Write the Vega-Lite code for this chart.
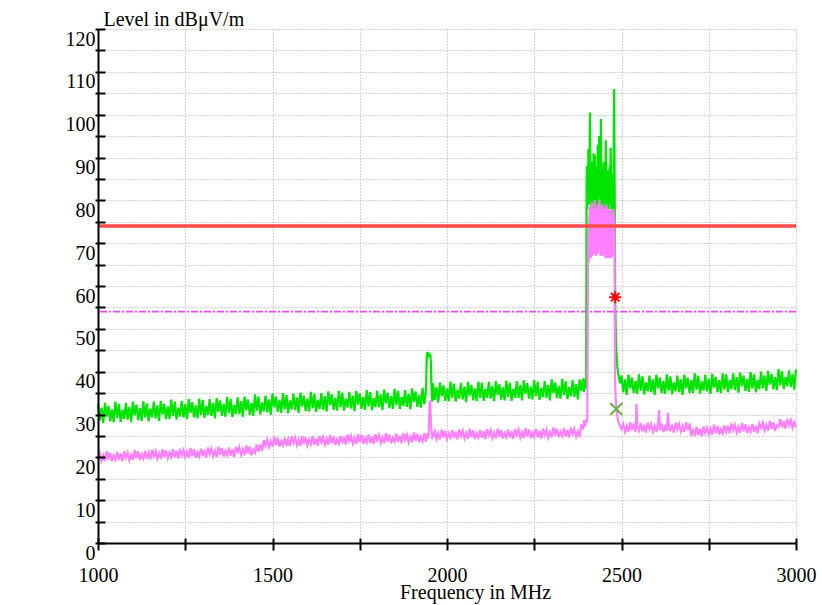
{
"$schema": "https://vega.github.io/schema/vega-lite/v6.json",
"width": 698, "height": 514,
"autosize": {"type": "none"},
"padding": {"left": 98, "top": 29, "right": 26, "bottom": 62},
"background": "white",
"config": {"view": {"stroke": null}, "font": "Liberation Serif, Times New Roman, serif"},
"data": {"values": [
{"f":1000,"pk":32.5,"av":19.8},{"f":1005,"pk":28.6,"av":21.0},{"f":1010,"pk":31.6,"av":19.2},{"f":1015,"pk":28.0,"av":20.5},{"f":1020,"pk":32.7,"av":19.1},{"f":1025,"pk":29.5,"av":21.4},{"f":1030,"pk":32.0,"av":19.5},{"f":1035,"pk":28.4,"av":21.1},{"f":1040,"pk":31.2,"av":19.1},{"f":1045,"pk":28.2,"av":20.4},
{"f":1050,"pk":33.0,"av":19.5},{"f":1055,"pk":29.2,"av":21.3},{"f":1060,"pk":32.5,"av":19.4},{"f":1065,"pk":28.3,"av":20.9},{"f":1070,"pk":31.1,"av":19.1},{"f":1075,"pk":29.0,"av":21.4},{"f":1080,"pk":32.7,"av":19.9},{"f":1085,"pk":28.8,"av":21.1},{"f":1090,"pk":31.8,"av":19.3},{"f":1095,"pk":28.2,"av":20.6},
{"f":1100,"pk":33.0,"av":19.4},{"f":1105,"pk":29.8,"av":21.7},{"f":1110,"pk":32.3,"av":19.8},{"f":1115,"pk":28.7,"av":21.4},{"f":1120,"pk":31.5,"av":19.4},{"f":1125,"pk":28.5,"av":20.7},{"f":1130,"pk":33.1,"av":19.7},{"f":1135,"pk":29.3,"av":21.5},{"f":1140,"pk":32.6,"av":19.6},{"f":1145,"pk":28.4,"av":21.1},
{"f":1150,"pk":31.4,"av":19.5},{"f":1155,"pk":29.3,"av":21.8},{"f":1160,"pk":33.0,"av":20.3},{"f":1165,"pk":29.1,"av":21.5},{"f":1170,"pk":32.1,"av":19.7},{"f":1175,"pk":28.5,"av":21.0},{"f":1180,"pk":33.2,"av":19.6},{"f":1185,"pk":30.0,"av":21.9},{"f":1190,"pk":32.5,"av":20.0},{"f":1195,"pk":28.9,"av":21.6},
{"f":1200,"pk":31.9,"av":19.8},{"f":1205,"pk":28.9,"av":21.1},{"f":1210,"pk":33.5,"av":20.1},{"f":1215,"pk":29.7,"av":21.9},{"f":1220,"pk":33.0,"av":20.0},{"f":1225,"pk":28.8,"av":21.5},{"f":1230,"pk":31.6,"av":19.7},{"f":1235,"pk":29.5,"av":22.0},{"f":1240,"pk":33.2,"av":20.5},{"f":1245,"pk":29.3,"av":21.7},
{"f":1250,"pk":32.5,"av":20.0},{"f":1255,"pk":28.9,"av":21.3},{"f":1260,"pk":33.6,"av":19.9},{"f":1265,"pk":30.4,"av":22.2},{"f":1270,"pk":32.9,"av":20.3},{"f":1275,"pk":29.3,"av":21.9},{"f":1280,"pk":32.1,"av":19.9},{"f":1285,"pk":29.1,"av":21.2},{"f":1290,"pk":33.7,"av":20.2},{"f":1295,"pk":29.9,"av":22.0},
{"f":1300,"pk":33.4,"av":20.3},{"f":1305,"pk":29.2,"av":21.8},{"f":1310,"pk":32.0,"av":20.0},{"f":1315,"pk":29.9,"av":22.3},{"f":1320,"pk":33.6,"av":20.8},{"f":1325,"pk":29.7,"av":22.0},{"f":1330,"pk":32.7,"av":20.2},{"f":1335,"pk":29.1,"av":21.5},{"f":1340,"pk":33.8,"av":20.1},{"f":1345,"pk":30.6,"av":22.4},
{"f":1350,"pk":33.3,"av":20.6},{"f":1355,"pk":29.7,"av":22.2},{"f":1360,"pk":32.5,"av":20.2},{"f":1365,"pk":29.5,"av":21.5},{"f":1370,"pk":34.1,"av":20.5},{"f":1375,"pk":30.3,"av":22.3},{"f":1380,"pk":33.6,"av":20.4},{"f":1385,"pk":29.4,"av":21.9},{"f":1390,"pk":32.2,"av":20.1},{"f":1395,"pk":30.1,"av":22.4},
{"f":1400,"pk":34.0,"av":21.2},{"f":1405,"pk":30.1,"av":22.4},{"f":1410,"pk":33.1,"av":20.6},{"f":1415,"pk":29.5,"av":21.9},{"f":1420,"pk":34.2,"av":20.5},{"f":1425,"pk":31.0,"av":22.8},{"f":1430,"pk":33.5,"av":20.9},{"f":1435,"pk":29.9,"av":22.5},{"f":1440,"pk":32.7,"av":20.5},{"f":1445,"pk":29.7,"av":21.8},
{"f":1450,"pk":34.7,"av":21.1},{"f":1455,"pk":30.9,"av":23.0},{"f":1460,"pk":34.2,"av":21.3},{"f":1465,"pk":30.0,"av":23.0},{"f":1470,"pk":32.8,"av":21.5},{"f":1475,"pk":30.7,"av":24.0},{"f":1480,"pk":34.4,"av":22.7},{"f":1485,"pk":30.5,"av":24.1},{"f":1490,"pk":33.5,"av":22.4},{"f":1495,"pk":29.9,"av":23.8},
{"f":1500,"pk":34.9,"av":22.5},{"f":1505,"pk":31.7,"av":24.8},{"f":1510,"pk":34.2,"av":22.9},{"f":1515,"pk":30.6,"av":24.5},{"f":1520,"pk":33.4,"av":22.5},{"f":1525,"pk":30.4,"av":23.8},{"f":1530,"pk":35.0,"av":22.8},{"f":1535,"pk":31.2,"av":24.6},{"f":1540,"pk":34.5,"av":22.7},{"f":1545,"pk":30.3,"av":24.2},
{"f":1550,"pk":33.3,"av":22.6},{"f":1555,"pk":31.2,"av":24.9},{"f":1560,"pk":34.9,"av":23.4},{"f":1565,"pk":31.0,"av":24.6},{"f":1570,"pk":34.0,"av":22.8},{"f":1575,"pk":30.4,"av":24.1},{"f":1580,"pk":35.1,"av":22.7},{"f":1585,"pk":31.9,"av":25.0},{"f":1590,"pk":34.4,"av":23.1},{"f":1595,"pk":30.8,"av":24.7},
{"f":1600,"pk":33.7,"av":22.8},{"f":1605,"pk":30.7,"av":24.1},{"f":1610,"pk":35.3,"av":23.1},{"f":1615,"pk":31.5,"av":24.9},{"f":1620,"pk":34.8,"av":23.0},{"f":1625,"pk":30.6,"av":24.5},{"f":1630,"pk":33.4,"av":22.7},{"f":1635,"pk":31.3,"av":25.0},{"f":1640,"pk":35.0,"av":23.5},{"f":1645,"pk":31.1,"av":24.7},
{"f":1650,"pk":34.3,"av":23.0},{"f":1655,"pk":30.7,"av":24.3},{"f":1660,"pk":35.4,"av":22.9},{"f":1665,"pk":32.2,"av":25.2},{"f":1670,"pk":34.7,"av":23.3},{"f":1675,"pk":31.1,"av":24.9},{"f":1680,"pk":33.9,"av":22.9},{"f":1685,"pk":30.9,"av":24.2},{"f":1690,"pk":35.5,"av":23.2},{"f":1695,"pk":31.7,"av":25.0},
{"f":1700,"pk":35.1,"av":23.3},{"f":1705,"pk":30.9,"av":24.8},{"f":1710,"pk":33.7,"av":23.0},{"f":1715,"pk":31.6,"av":25.3},{"f":1720,"pk":35.3,"av":23.8},{"f":1725,"pk":31.4,"av":25.0},{"f":1730,"pk":34.4,"av":23.2},{"f":1735,"pk":30.8,"av":24.5},{"f":1740,"pk":35.5,"av":23.1},{"f":1745,"pk":32.3,"av":25.4},
{"f":1750,"pk":34.9,"av":23.6},{"f":1755,"pk":31.3,"av":25.2},{"f":1760,"pk":34.1,"av":23.2},{"f":1765,"pk":31.1,"av":24.5},{"f":1770,"pk":35.7,"av":23.5},{"f":1775,"pk":31.9,"av":25.3},{"f":1780,"pk":35.2,"av":23.4},{"f":1785,"pk":31.0,"av":24.9},{"f":1790,"pk":33.8,"av":23.1},{"f":1795,"pk":31.7,"av":25.4},
{"f":1800,"pk":35.6,"av":24.0},{"f":1805,"pk":31.7,"av":25.2},{"f":1810,"pk":34.7,"av":23.4},{"f":1815,"pk":31.1,"av":24.7},{"f":1820,"pk":35.8,"av":23.3},{"f":1825,"pk":32.6,"av":25.6},{"f":1830,"pk":35.1,"av":23.7},{"f":1835,"pk":31.5,"av":25.3},{"f":1840,"pk":34.3,"av":23.3},{"f":1845,"pk":31.3,"av":24.6},
{"f":1850,"pk":36.0,"av":23.7},{"f":1855,"pk":32.2,"av":25.5},{"f":1860,"pk":35.5,"av":23.6},{"f":1865,"pk":31.3,"av":25.1},{"f":1870,"pk":34.1,"av":23.3},{"f":1875,"pk":32.0,"av":25.6},{"f":1880,"pk":35.7,"av":24.1},{"f":1885,"pk":31.8,"av":25.3},{"f":1890,"pk":34.8,"av":23.5},{"f":1895,"pk":31.2,"av":24.8},
{"f":1900,"pk":36.1,"av":23.5},{"f":1905,"pk":32.9,"av":25.8},{"f":1910,"pk":35.4,"av":23.9},{"f":1915,"pk":31.8,"av":25.5},{"f":1920,"pk":34.6,"av":23.5},{"f":1925,"pk":31.6,"av":24.8},{"f":1930,"pk":36.2,"av":23.8},{"f":1935,"pk":32.4,"av":25.6},{"f":1940,"pk":35.7,"av":23.7},
{"f":1942,"pk":43.8,"av":24.9},{"f":1944,"pk":44.6,"av":25.6},{"f":1946,"pk":43.9,"av":24.4},{"f":1948,"pk":44.4,"av":26.5},{"f":1950,"pk":43.5,"av":32.8},{"f":1952,"pk":44.1,"av":33.0},{"f":1954,"pk":42.0,"av":28.0},{"f":1956,"pk":35.2,"av":25.8},{"f":1958,"pk":33.0,"av":24.6},
{"f":1960,"pk":37.3,"av":24.9},{"f":1965,"pk":33.4,"av":26.1},{"f":1970,"pk":36.4,"av":24.3},{"f":1975,"pk":32.8,"av":25.6},{"f":1980,"pk":37.5,"av":24.2},{"f":1985,"pk":34.3,"av":26.5},{"f":1990,"pk":36.8,"av":24.6},{"f":1995,"pk":33.2,"av":26.2},
{"f":2000,"pk":36.1,"av":24.3},{"f":2005,"pk":33.1,"av":25.6},{"f":2010,"pk":37.7,"av":24.6},{"f":2015,"pk":33.9,"av":26.4},{"f":2020,"pk":37.2,"av":24.5},{"f":2025,"pk":33.0,"av":26.0},{"f":2030,"pk":35.8,"av":24.2},{"f":2035,"pk":33.7,"av":26.5},{"f":2040,"pk":37.4,"av":25.0},{"f":2045,"pk":33.5,"av":26.2},
{"f":2050,"pk":36.5,"av":24.4},{"f":2055,"pk":32.9,"av":25.7},{"f":2060,"pk":37.6,"av":24.3},{"f":2065,"pk":34.4,"av":26.6},{"f":2070,"pk":36.9,"av":24.7},{"f":2075,"pk":33.3,"av":26.3},{"f":2080,"pk":36.1,"av":24.3},{"f":2085,"pk":33.1,"av":25.6},{"f":2090,"pk":37.7,"av":24.6},{"f":2095,"pk":33.9,"av":26.4},
{"f":2100,"pk":37.4,"av":24.6},{"f":2105,"pk":33.2,"av":26.1},{"f":2110,"pk":36.0,"av":24.3},{"f":2115,"pk":33.9,"av":26.6},{"f":2120,"pk":37.6,"av":25.1},{"f":2125,"pk":33.7,"av":26.3},{"f":2130,"pk":36.7,"av":24.5},{"f":2135,"pk":33.1,"av":25.8},{"f":2140,"pk":37.8,"av":24.4},{"f":2145,"pk":34.6,"av":26.7},
{"f":2150,"pk":37.1,"av":24.8},{"f":2155,"pk":33.5,"av":26.4},{"f":2160,"pk":36.3,"av":24.4},{"f":2165,"pk":33.3,"av":25.7},{"f":2170,"pk":37.9,"av":24.7},{"f":2175,"pk":34.1,"av":26.5},{"f":2180,"pk":37.4,"av":24.6},{"f":2185,"pk":33.2,"av":26.1},{"f":2190,"pk":36.0,"av":24.3},{"f":2195,"pk":33.9,"av":26.6},
{"f":2200,"pk":37.8,"av":25.2},{"f":2205,"pk":33.9,"av":26.4},{"f":2210,"pk":36.9,"av":24.6},{"f":2215,"pk":33.3,"av":25.9},{"f":2220,"pk":38.0,"av":24.5},{"f":2225,"pk":34.8,"av":26.8},{"f":2230,"pk":37.3,"av":24.9},{"f":2235,"pk":33.7,"av":26.5},{"f":2240,"pk":36.5,"av":24.5},{"f":2245,"pk":33.5,"av":25.8},
{"f":2250,"pk":38.1,"av":24.8},{"f":2255,"pk":34.3,"av":26.6},{"f":2260,"pk":37.6,"av":24.7},{"f":2265,"pk":33.4,"av":26.2},{"f":2270,"pk":36.2,"av":24.4},{"f":2275,"pk":34.1,"av":26.7},{"f":2280,"pk":37.8,"av":25.2},{"f":2285,"pk":33.9,"av":26.4},{"f":2290,"pk":36.9,"av":24.6},{"f":2295,"pk":33.3,"av":25.9},
{"f":2300,"pk":38.2,"av":24.7},{"f":2305,"pk":35.0,"av":27.0},{"f":2310,"pk":37.5,"av":25.1},{"f":2315,"pk":33.9,"av":26.7},{"f":2320,"pk":36.7,"av":24.7},{"f":2325,"pk":33.7,"av":26.0},{"f":2330,"pk":38.3,"av":25.0},{"f":2335,"pk":34.5,"av":26.8},{"f":2340,"pk":37.8,"av":24.9},{"f":2345,"pk":33.6,"av":26.4},
{"f":2350,"pk":36.4,"av":24.6},{"f":2355,"pk":34.3,"av":26.9},{"f":2360,"pk":38.0,"av":25.4},{"f":2365,"pk":34.1,"av":26.6},{"f":2370,"pk":37.1,"av":24.8},{"f":2375,"pk":33.5,"av":26.1},{"f":2380,"pk":38.2,"av":24.7},{"f":2385,"pk":35.5,"av":27.7},{"f":2390,"pk":38.4,"av":26.5},{"f":2393,"pk":35.2,"av":28.7},{"f":2396,"pk":38.3,"av":27.2},{"f":2398,"pk":36.0,"av":28.8},
{"f":2399,"pk":38.5,"av":28.5},{"f":2400,"pk":84,"av":28.8},{"f":2401,"pk":88,"av":28.4},{"f":2402,"pk":78,"av":29.0},{"f":2403,"pk":87,"av":45},{"f":2404,"pk":80,"av":66},{"f":2405,"pk":92,"av":72},{"f":2406,"pk":79,"av":65.5},{"f":2407,"pk":86,"av":76},{"f":2408,"pk":81,"av":68},{"f":2409,"pk":95,"av":78.5},
{"f":2410,"pk":100.5,"av":70},{"f":2411,"pk":80,"av":77},{"f":2412,"pk":87,"av":66.5},{"f":2413,"pk":77,"av":75},{"f":2414,"pk":89,"av":69},{"f":2415,"pk":79,"av":79.5},{"f":2416,"pk":84,"av":67},{"f":2417,"pk":76,"av":76},{"f":2418,"pk":88,"av":70},{"f":2419,"pk":80,"av":78},
{"f":2420,"pk":91,"av":67.5},{"f":2421,"pk":78,"av":75.5},{"f":2422,"pk":85,"av":69},{"f":2423,"pk":80,"av":80},{"f":2424,"pk":90.5,"av":68},{"f":2425,"pk":77,"av":76.5},{"f":2426,"pk":84,"av":67},{"f":2427,"pk":79,"av":78},{"f":2428,"pk":88,"av":70.5},{"f":2429,"pk":76,"av":74},
{"f":2430,"pk":86,"av":68},{"f":2431,"pk":80,"av":79},{"f":2432,"pk":93,"av":67.5},{"f":2433,"pk":79,"av":76},{"f":2434,"pk":87,"av":70},{"f":2435,"pk":81,"av":77.5},{"f":2436,"pk":95,"av":68.5},{"f":2437,"pk":90.6,"av":80},{"f":2438,"pk":84,"av":69},{"f":2439,"pk":90,"av":75},
{"f":2440,"pk":79,"av":67},{"f":2441,"pk":99,"av":78},{"f":2442,"pk":77,"av":70},{"f":2443,"pk":88,"av":76},{"f":2444,"pk":80,"av":68.5},{"f":2445,"pk":86,"av":79},{"f":2446,"pk":78,"av":67},{"f":2447,"pk":84,"av":75.5},{"f":2448,"pk":82,"av":69},{"f":2449,"pk":89,"av":77},
{"f":2450,"pk":85,"av":67.5},{"f":2451,"pk":80,"av":78.5},{"f":2452,"pk":86,"av":70},{"f":2453,"pk":78,"av":75},{"f":2454,"pk":84,"av":66.5},{"f":2455,"pk":94,"av":77},{"f":2456,"pk":88,"av":68},{"f":2457,"pk":80,"av":79},{"f":2458,"pk":85,"av":66.5},{"f":2459,"pk":76,"av":76},
{"f":2460,"pk":83,"av":69},{"f":2461,"pk":79,"av":78},{"f":2462,"pk":87,"av":67},{"f":2463,"pk":78,"av":75},{"f":2464,"pk":84,"av":66.5},{"f":2465,"pk":79,"av":77.5},{"f":2466,"pk":88,"av":68},{"f":2467,"pk":82,"av":76},{"f":2468,"pk":86,"av":66.5},{"f":2469,"pk":92.3,"av":78},
{"f":2470,"pk":85,"av":67},{"f":2471,"pk":77,"av":75},{"f":2472,"pk":84,"av":66.5},{"f":2473,"pk":78,"av":77},{"f":2474,"pk":83,"av":68},{"f":2475,"pk":76,"av":76.5},{"f":2476,"pk":86,"av":67},{"f":2477,"pk":80,"av":78},{"f":2478,"pk":96,"av":69},{"f":2479,"pk":106,"av":76},
{"f":2480,"pk":88,"av":72},{"f":2481,"pk":74,"av":45},{"f":2482,"pk":56,"av":36.5},{"f":2483,"pk":52,"av":34.5},{"f":2484,"pk":47.5,"av":33},{"f":2486,"pk":43.5,"av":31},{"f":2488,"pk":41.2,"av":29.6},{"f":2490,"pk":39.8,"av":28.6},{"f":2493,"pk":38.5,"av":27.8},{"f":2496,"pk":37.3,"av":27.3},
{"f":2500,"pk":39.1,"av":26.6},{"f":2505,"pk":35.2,"av":27.8},{"f":2510,"pk":38.2,"av":26.0},{"f":2515,"pk":34.6,"av":27.3},{"f":2520,"pk":39.3,"av":25.9},{"f":2525,"pk":36.1,"av":28.2},{"f":2530,"pk":38.6,"av":26.3},{"f":2535,"pk":35.0,"av":27.9},{"f":2540,"pk":37.8,"av":25.9},{"f":2543,"pk":36.0,"av":32.5},{"f":2545,"pk":34.8,"av":27.2},
{"f":2550,"pk":39.4,"av":26.2},{"f":2555,"pk":35.6,"av":28.0},{"f":2560,"pk":38.9,"av":26.1},{"f":2565,"pk":34.7,"av":27.6},{"f":2570,"pk":37.5,"av":25.8},{"f":2575,"pk":35.4,"av":28.1},{"f":2580,"pk":39.1,"av":26.6},{"f":2585,"pk":35.2,"av":27.8},{"f":2590,"pk":38.2,"av":26.0},{"f":2595,"pk":34.6,"av":27.3},
{"f":2600,"pk":39.3,"av":25.9},{"f":2605,"pk":36.1,"av":28.2},{"f":2608,"pk":37.5,"av":31.1},{"f":2610,"pk":38.6,"av":26.3},{"f":2615,"pk":35.0,"av":27.9},{"f":2620,"pk":37.8,"av":25.9},{"f":2625,"pk":34.8,"av":27.2},{"f":2630,"pk":39.4,"av":26.2},{"f":2633,"pk":36.5,"av":30.4},{"f":2635,"pk":35.6,"av":28.0},{"f":2640,"pk":38.9,"av":26.1},{"f":2645,"pk":34.7,"av":27.6},
{"f":2650,"pk":37.5,"av":25.8},{"f":2655,"pk":35.4,"av":28.1},{"f":2660,"pk":39.1,"av":26.6},{"f":2665,"pk":35.2,"av":27.8},{"f":2670,"pk":38.2,"av":26.0},{"f":2675,"pk":34.6,"av":27.3},{"f":2680,"pk":39.3,"av":25.9},{"f":2685,"pk":36.1,"av":28.2},{"f":2690,"pk":38.6,"av":26.3},{"f":2695,"pk":35.0,"av":27.9},
{"f":2700,"pk":38.0,"av":25.0},{"f":2705,"pk":35.0,"av":26.3},{"f":2710,"pk":39.6,"av":25.3},{"f":2715,"pk":35.8,"av":27.1},{"f":2720,"pk":39.1,"av":25.2},{"f":2725,"pk":34.9,"av":26.7},{"f":2730,"pk":37.7,"av":24.9},{"f":2735,"pk":35.6,"av":27.2},{"f":2740,"pk":39.3,"av":25.7},{"f":2745,"pk":35.4,"av":26.9},
{"f":2750,"pk":38.4,"av":25.4},{"f":2755,"pk":34.8,"av":26.7},{"f":2760,"pk":39.5,"av":25.3},{"f":2765,"pk":36.3,"av":27.6},{"f":2770,"pk":38.8,"av":25.7},{"f":2775,"pk":35.2,"av":27.3},{"f":2780,"pk":38.0,"av":25.3},{"f":2785,"pk":35.0,"av":26.6},{"f":2790,"pk":39.6,"av":25.6},{"f":2795,"pk":35.8,"av":27.4},
{"f":2800,"pk":39.4,"av":25.9},{"f":2805,"pk":35.2,"av":27.4},{"f":2810,"pk":38.0,"av":25.6},{"f":2815,"pk":35.9,"av":27.9},{"f":2820,"pk":39.6,"av":26.4},{"f":2825,"pk":35.7,"av":27.6},{"f":2830,"pk":38.7,"av":25.8},{"f":2835,"pk":35.1,"av":27.1},{"f":2840,"pk":39.8,"av":25.7},{"f":2845,"pk":36.6,"av":28.0},
{"f":2850,"pk":39.1,"av":26.1},{"f":2855,"pk":35.5,"av":27.7},{"f":2860,"pk":38.3,"av":25.7},{"f":2865,"pk":35.3,"av":27.0},{"f":2870,"pk":39.9,"av":26.0},{"f":2875,"pk":36.1,"av":27.8},{"f":2880,"pk":39.4,"av":25.9},{"f":2885,"pk":35.2,"av":27.4},{"f":2890,"pk":38.0,"av":25.6},{"f":2895,"pk":35.9,"av":27.9},
{"f":2900,"pk":40.0,"av":26.9},{"f":2905,"pk":36.1,"av":28.1},{"f":2910,"pk":39.1,"av":26.3},{"f":2915,"pk":35.5,"av":27.6},{"f":2920,"pk":40.2,"av":26.2},{"f":2925,"pk":37.0,"av":28.5},{"f":2930,"pk":39.5,"av":26.6},{"f":2935,"pk":35.9,"av":28.2},{"f":2940,"pk":38.7,"av":26.2},{"f":2945,"pk":35.7,"av":27.5},
{"f":2950,"pk":40.6,"av":27.1},{"f":2955,"pk":36.8,"av":28.9},{"f":2960,"pk":40.1,"av":27.0},{"f":2965,"pk":35.9,"av":28.5},{"f":2970,"pk":38.7,"av":26.7},{"f":2975,"pk":36.6,"av":29.0},{"f":2980,"pk":40.3,"av":27.5},{"f":2985,"pk":36.4,"av":28.7},{"f":2990,"pk":39.4,"av":26.9},{"f":2995,"pk":35.8,"av":28.2},{"f":3000,"pk":40.5,"av":27.0}
]},
"layer": [
{
"data": {"values": [{"limit": 54}]},
"mark": {"type": "rule", "color": "#f048f0", "strokeWidth": 1.8, "strokeDash": [7, 2, 2, 2]},
"encoding": {"y": {"field": "limit", "type": "quantitative", "scale": {"domain": [0, 120], "nice": false}, "axis": null}}
},
{
"mark": {"type": "line", "color": "#00e400", "strokeWidth": 2.2},
"encoding": {
"x": {"field": "f", "type": "quantitative", "scale": {"domain": [1000, 3000], "nice": false},
"axis": {"values": [1000,1250,1500,1750,2000,2250,2500,2750,3000], "format": "d",
"labelExpr": "datum.value % 500 === 0 ? datum.label : ''",
"grid": false, "zindex": 1, "tickSize": 7, "tickWidth": 2, "tickColor": "black", "domainColor": "black", "domainWidth": 2,
"labelFont": "Liberation Serif, Times New Roman, serif", "labelFontSize": 20, "labelColor": "black", "labelPadding": 15, "labelFlush": false, "labelOverlap": false,
"title": "Frequency in MHz", "titleFont": "Liberation Serif, Times New Roman, serif", "titleFontSize": 20, "titleFontWeight": "normal", "titleColor": "black",
"titleX": 377, "titleY": 55, "titleAlign": "center", "titleBaseline": "alphabetic"}},
"y": {"field": "pk", "type": "quantitative", "scale": {"domain": [0, 120], "nice": false},
"axis": {"values": [0,5,10,15,20,25,30,35,40,45,50,55,60,65,70,75,80,85,90,95,100,105,110,115,120],
"labelExpr": "datum.value % 10 === 0 ? datum.label : ''",
"grid": false, "zindex": 1, "tickSize": 3, "tickWidth": 2, "tickColor": "black", "domainColor": "black", "domainWidth": 2,
"labelFont": "Liberation Serif, Times New Roman, serif", "labelFontSize": 20, "labelColor": "black", "labelBaseline": "top", "labelPadding": 0, "labelFlush": false, "labelOverlap": false,
"title": "Level in dBμV/m", "titleFont": "Liberation Serif, Times New Roman, serif", "titleFontSize": 20, "titleFontWeight": "normal", "titleColor": "black",
"titleAngle": 0, "titleAlign": "left", "titleBaseline": "alphabetic", "titleX": 5, "titleY": -4}}
}
},
{
"mark": {"type": "line", "color": "#ff80ff", "strokeWidth": 2.2},
"encoding": {
"x": {"field": "f", "type": "quantitative",
"axis": {"orient": "top", "offset": -514, "values": [1000,1250,1500,1750,2000,2250,2500,2750,3000], "labels": false, "domain": false, "grid": false, "zindex": 1, "tickSize": 5, "tickWidth": 2, "tickColor": "black", "title": null}},
"y": {"field": "av", "type": "quantitative",
"axis": {"orient": "right", "offset": -698, "values": [0,5,10,15,20,25,30,35,40,45,50,55,60,65,70,75,80,85,90,95,100,105,110,115,120], "labels": false, "domain": false, "grid": false, "zindex": 1, "tickSize": 7, "tickWidth": 2, "tickColor": "black", "title": null}}
}
},
{
"data": {"values": [{"limit": 74}]},
"mark": {"type": "rule", "color": "#ff4848", "strokeWidth": 3.5},
"encoding": {"y": {"field": "limit", "type": "quantitative", "axis": null}}
},
{
"data": {"values": [{"f": 2482, "v": 57.4}]},
"mark": {"type": "point", "shape": "M-1,0L1,0M0,-1L0,1M-0.7,-0.7L0.7,0.7M-0.7,0.7L0.7,-0.7", "filled": false, "stroke": "#ff0000", "strokeWidth": 2, "size": 144, "opacity": 1},
"encoding": {
"x": {"field": "f", "type": "quantitative",
"axis": {"values": [1000,1250,1500,1750,2000,2250,2500,2750,3000], "labels": false, "ticks": false, "domain": false, "grid": true, "gridColor": "#a8a8a8", "gridDash": [1, 2], "gridWidth": 1, "zindex": 0, "title": null}},
"y": {"field": "v", "type": "quantitative",
"axis": {"values": [0,5,10,15,20,25,30,35,40,45,50,55,60,65,70,75,80,85,90,95,100,105,110,115,120], "labels": false, "ticks": false, "domain": false, "grid": true, "gridColor": "#a8a8a8", "gridDash": [1, 2], "gridWidth": 1, "zindex": 0, "title": null}}
}
},
{
"data": {"values": [{"f": 2485, "v": 31.3}]},
"mark": {"type": "point", "shape": "M-1,-1L1,1M-1,1L1,-1", "filled": false, "stroke": "#6cae45", "strokeWidth": 2, "size": 144, "opacity": 1},
"encoding": {
"x": {"field": "f", "type": "quantitative", "axis": null},
"y": {"field": "v", "type": "quantitative", "axis": null}
}
}
],
"resolve": {"axis": {"x": "independent", "y": "independent"}}
}
